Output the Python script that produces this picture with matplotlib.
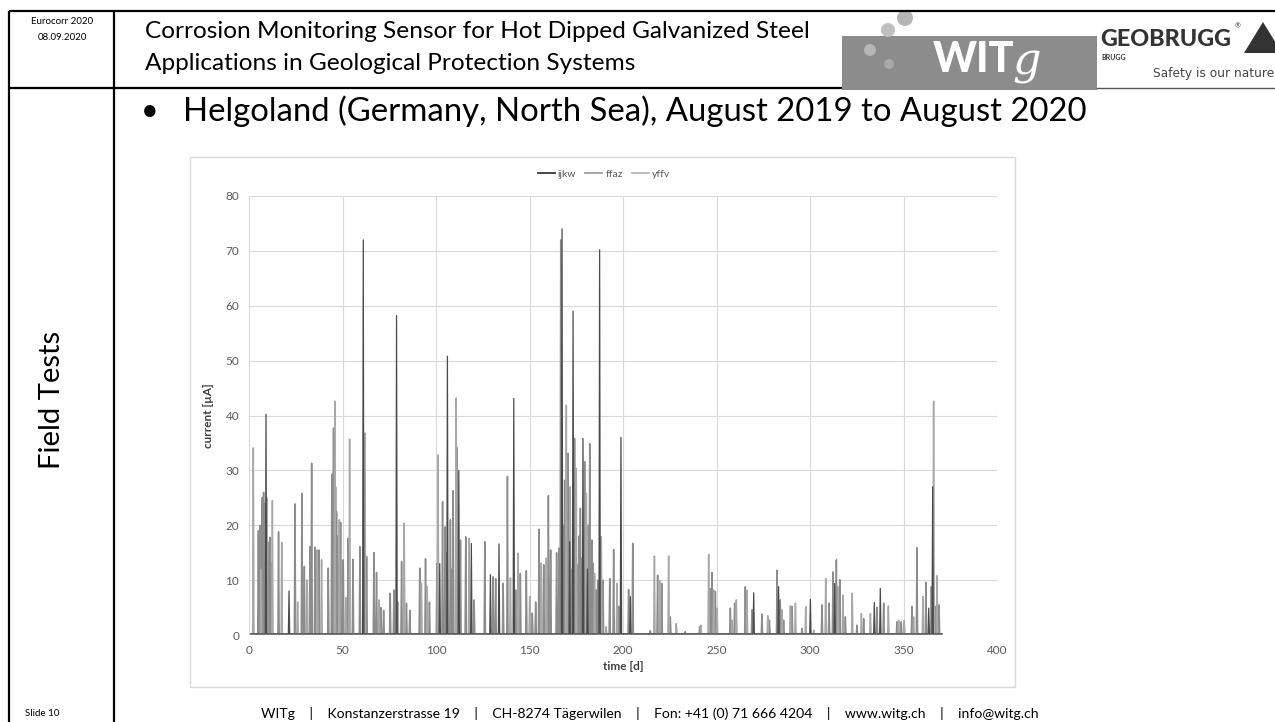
import numpy as np
import matplotlib
matplotlib.use('Agg')
import matplotlib.pyplot as plt
from matplotlib.patches import Rectangle, Circle, Polygon

plt.rcParams['font.family'] = ['Lato', 'DejaVu Sans']

# spikes: day, current [uA]
ijkw_days = [9.1, 21.4, 61.1, 78.9, 102.0, 106.1, 112.2, 118.9, 129.1, 133.7, 141.6,
             167.4, 171.5, 173.3, 178.6, 181.0, 187.5, 198.9, 203.9, 269.9, 283.2,
             300.2, 313.2, 334.4, 337.6, 363.5, 365.6]
ijkw_vals = [40.2, 8.0, 72.0, 58.2, 13.0, 50.8, 30.0, 16.7, 11.0, 16.6, 43.1,
             74.0, 17.0, 59.0, 35.8, 12.0, 70.2, 36.0, 7.0, 7.7, 8.8,
             6.5, 9.4, 5.9, 8.5, 4.9, 27.0]

ffaz_days = [5.0, 5.5, 6.0, 7.0, 7.8, 8.0, 8.5, 9.0, 10.0, 10.8, 11.2, 11.8, 15.8, 24.6,
             28.3, 29.6, 32.6, 33.5, 35.3, 37.4, 42.4, 44.3, 44.8, 45.2, 46.3, 46.8,
             47.3, 47.8, 49.0, 50.4, 53.0, 55.6, 59.3, 62.9, 66.8, 68.2, 70.5, 72.0,
             75.5, 77.5, 81.6, 84.2, 86.0, 91.3, 94.4, 96.5, 100.5, 103.5, 104.9,
             105.5, 107.7, 108.5, 109.2, 111.3, 113.1, 115.9, 120.4, 126.1, 130.5,
             131.9, 135.9, 138.2, 142.6, 145.1, 148.3, 151.5, 153.3, 155.1, 157.6,
             160.1, 161.3, 164.5, 165.8, 166.7, 167.0, 168.2, 168.8, 170.0, 170.6,
             172.5, 174.1, 175.9, 176.5, 177.2, 178.0, 179.5, 181.5, 182.2, 183.4,
             184.0, 185.7, 186.5, 189.3, 192.9, 195.0, 197.7, 203.0, 205.2, 214.6,
             218.5, 220.7, 225.3, 233.3, 241.0, 246.7, 247.6, 249.4, 257.4, 259.7,
             265.4, 269.0, 274.3, 278.3, 282.4, 284.1, 285.9, 290.4, 295.7, 306.4,
             310.2, 312.3, 314.1, 315.9, 318.9, 325.1, 328.7, 335.8, 339.4, 346.5,
             348.8, 354.5, 357.2, 362.0, 364.9, 367.0, 369.0]
ffaz_vals = [19.0, 12.0, 20.0, 25.0, 26.0, 22.0, 24.0, 20.0, 17.0, 12.0, 17.8, 13.0, 18.8,
             23.9, 25.8, 12.5, 16.1, 31.3, 16.0, 15.5, 12.2, 29.3, 20.0, 37.7, 27.0,
             22.5, 18.0, 13.0, 20.5, 13.7, 17.6, 13.8, 16.1, 14.3, 15.0, 11.4, 5.0,
             4.5, 7.6, 8.2, 13.4, 5.8, 4.5, 12.2, 13.9, 6.0, 13.0, 24.3, 19.7,
             15.0, 21.0, 12.0, 26.3, 34.1, 17.3, 17.9, 6.4, 17.0, 10.6,
             10.3, 9.4, 28.9, 8.2, 11.2, 11.7, 4.0, 6.0, 19.3, 12.8,
             25.4, 15.5, 15.0, 15.8, 72.0, 25.0, 20.0, 28.2, 15.0, 33.1,
             12.0, 35.8, 12.8, 18.0, 23.1, 14.0, 31.6, 20.0, 34.9, 17.3,
             13.0, 8.2, 10.0, 10.0, 10.3, 15.6, 5.2, 8.3, 16.7, 0.8,
             10.9, 9.4, 3.3, 0.6, 1.5, 8.5, 11.4, 7.9, 4.9, 5.8,
             8.8, 4.6, 3.8, 2.7, 11.8, 6.4, 2.7, 5.2, 1.2, 5.5,
             5.8, 11.5, 13.7, 10.1, 3.3, 1.8, 3.0, 5.0, 5.8, 2.4,
             2.4, 5.2, 15.9, 9.6, 8.8, 5.2, 5.5]

yffv_days = [2.3, 6.5, 9.6, 12.5, 17.5, 26.0, 31.0, 36.5, 38.8, 45.9, 48.3, 51.8,
             53.8, 62.0, 69.6, 79.6, 83.0, 92.2, 95.3, 101.1, 110.8, 117.7, 139.8,
             143.9, 150.1, 156.3, 159.0, 169.7, 171.8, 175.0, 180.4, 184.8, 188.4,
             191.0, 196.8, 216.8, 219.6, 224.4, 228.5, 241.7, 245.8, 248.5, 250.3,
             258.3, 260.6, 266.3, 277.4, 285.0, 289.5, 292.2, 297.7, 302.0, 308.4,
             315.0, 317.6, 322.6, 327.5, 332.3, 341.9, 347.4, 350.4, 355.4, 360.4,
             366.1, 367.9]
yffv_vals = [34.1, 12.0, 25.0, 24.5, 16.9, 6.0, 10.0, 15.5, 13.7, 42.6, 21.0, 6.8,
             35.7, 36.8, 6.4, 6.0, 20.4, 9.4, 8.8, 32.8, 43.2, 17.6, 10.4,
             14.9, 7.0, 13.1, 14.0, 41.9, 27.0, 30.4, 25.8, 11.2, 17.9,
             1.5, 9.4, 14.4, 10.0, 14.4, 2.1, 1.8, 14.7, 8.2, 4.9,
             2.7, 6.4, 8.2, 3.5, 4.6, 5.3, 5.8, 5.2, 0.9, 10.3,
             8.8, 7.3, 7.6, 3.9, 3.9, 5.3, 2.7, 2.7, 3.3, 7.0,
             42.6, 10.8]

series_names = ['ijkw', 'ffaz', 'yffv']
series_colors = ['#4a4a4a', '#8c8c8c', '#a8a8a8']
series_widths = [0.9, 1.1, 1.1]
legend_colors = ['#3a3a3a', '#a0a0a0', '#b8b8b8']


def spike_line(days, vals, start=1.0, end=370.5, half=0.35, base=0.2):
    order = np.argsort(days)
    xs, ys = [start], [base]
    for i in order:
        xs += [days[i] - half, days[i], days[i] + half]
        ys += [base, vals[i], base]
    xs.append(end)
    ys.append(base)
    return xs, ys


fig = plt.figure(figsize=(12.75, 7.22), dpi=100)

# slide background in pixel coordinates
bg = fig.add_axes([0, 0, 1, 1])
bg.set_xlim(0, 1275)
bg.set_ylim(722, 0)
bg.axis('off')

k = dict(color='black', lw=1.6, solid_capstyle='butt')
bg.plot([9, 1275], [11, 11], **k)
bg.plot([9, 9], [11, 722], **k)
bg.plot([114, 114], [11, 722], **k)
bg.plot([9, 842], [88, 88], **k)
bg.plot([1097, 1275], [88, 88], color='#555555', lw=1.0)

bg.text(62, 22, 'Eurocorr 2020', fontsize=7, ha='center', va='center')
bg.text(62, 37, '08.09.2020', fontsize=7, ha='center', va='center')
bg.text(145, 32, 'Corrosion Monitoring Sensor for Hot Dipped Galvanized Steel',
        fontsize=17.6, ha='left', va='center')
bg.text(145, 63, 'Applications in Geological Protection Systems',
        fontsize=17.6, ha='left', va='center')

# WITg logo
bg.add_patch(Rectangle((842, 36), 255, 54, color='#8c8c8c', lw=0))
bg.add_patch(Circle((905, 18), 8, color='#b5b5b5', lw=0))
bg.add_patch(Circle((888, 30), 7, color='#c0c0c0', lw=0))
bg.add_patch(Circle((870, 50), 6, color='#b5b5b5', lw=0))
bg.add_patch(Circle((889, 64), 5, color='#a8a8a8', lw=0))
bg.text(933, 60, 'WIT', fontsize=30, fontweight='black', color='white',
        ha='left', va='center')
bg.text(1012, 62, 'g', fontsize=32, family='DejaVu Serif', style='italic',
        color='white', ha='left', va='center')

# GEOBRUGG logo
bg.text(1100, 39, 'GEOBRUGG', fontsize=16.8, fontweight='black', color='#333333',
        ha='left', va='center')
bg.text(1235, 26, '®', fontsize=5, color='#333333', ha='left', va='center')
bg.add_patch(Polygon([[1244, 53], [1263, 22], [1282, 53]], color='#333333', lw=0))
bg.text(1101, 57, 'BRUGG', fontsize=5, fontweight='bold', color='#333333',
        ha='left', va='center')
bg.text(1274, 74, 'Safety is our nature', fontsize=8.8, family='DejaVu Sans',
        color='#444444', ha='right', va='center')

bg.text(52, 400, 'Field Tests', fontsize=21, rotation=90, ha='center', va='center')
bg.text(150, 111, '•', fontsize=22, ha='center', va='center')
bg.text(183, 111, 'Helgoland (Germany, North Sea), August 2019 to August 2020',
        fontsize=23.7, ha='left', va='center')

bg.text(42, 714, 'Slide 10', fontsize=7, ha='center', va='center')
sep = '    |    '
bg.text(650, 714, sep.join(['WITg', 'Konstanzerstrasse 19', 'CH-8274 Tägerwilen',
                            'Fon: +41 (0) 71 666 4204', 'www.witg.ch', 'info@witg.ch']),
        fontsize=10.1, ha='center', va='center')

# chart frame
bg.add_patch(Rectangle((190, 157), 825, 530, fill=False, edgecolor='#d9d9d9', lw=1.0))

# chart
ax = fig.add_axes([249 / 1275, 1 - 635 / 722, 748 / 1275, 439 / 722])
all_days = [ijkw_days, ffaz_days, yffv_days]
all_vals = [ijkw_vals, ffaz_vals, yffv_vals]
for name, d, v, c, w in zip(series_names, all_days, all_vals, series_colors, series_widths):
    xs, ys = spike_line(d, v)
    z = 3 if name == 'ijkw' else 2
    ax.plot(xs, ys, color=c, lw=w, zorder=z, label=name)

ax.set_xlim(0, 400)
ax.set_ylim(0, 80)
ax.set_xticks(np.arange(0, 401, 50))
ax.set_yticks(np.arange(0, 81, 10))
ax.grid(color='#d9d9d9', lw=0.8)
ax.set_axisbelow(True)
for s in ax.spines.values():
    s.set_visible(False)
ax.tick_params(length=0, labelsize=8.5, labelcolor='#595959', pad=7)
ax.set_xlabel('time [d]', fontsize=8.5, fontweight='bold', color='#404040', labelpad=4)
ax.set_ylabel('current [µA]', fontsize=8.5, fontweight='bold', color='#404040', labelpad=8)

handles = [plt.Line2D([], [], color=c, lw=1.3) for c in legend_colors]
ax.legend(handles, series_names, loc='center', bbox_to_anchor=(604 / 1275, 1 - 174 / 722),
          bbox_transform=fig.transFigure, ncol=3, frameon=False, fontsize=7.5,
          handlelength=1.6, handletextpad=0.3, columnspacing=0.9, labelcolor='#595959')

fig.savefig('out.png', dpi=100)
